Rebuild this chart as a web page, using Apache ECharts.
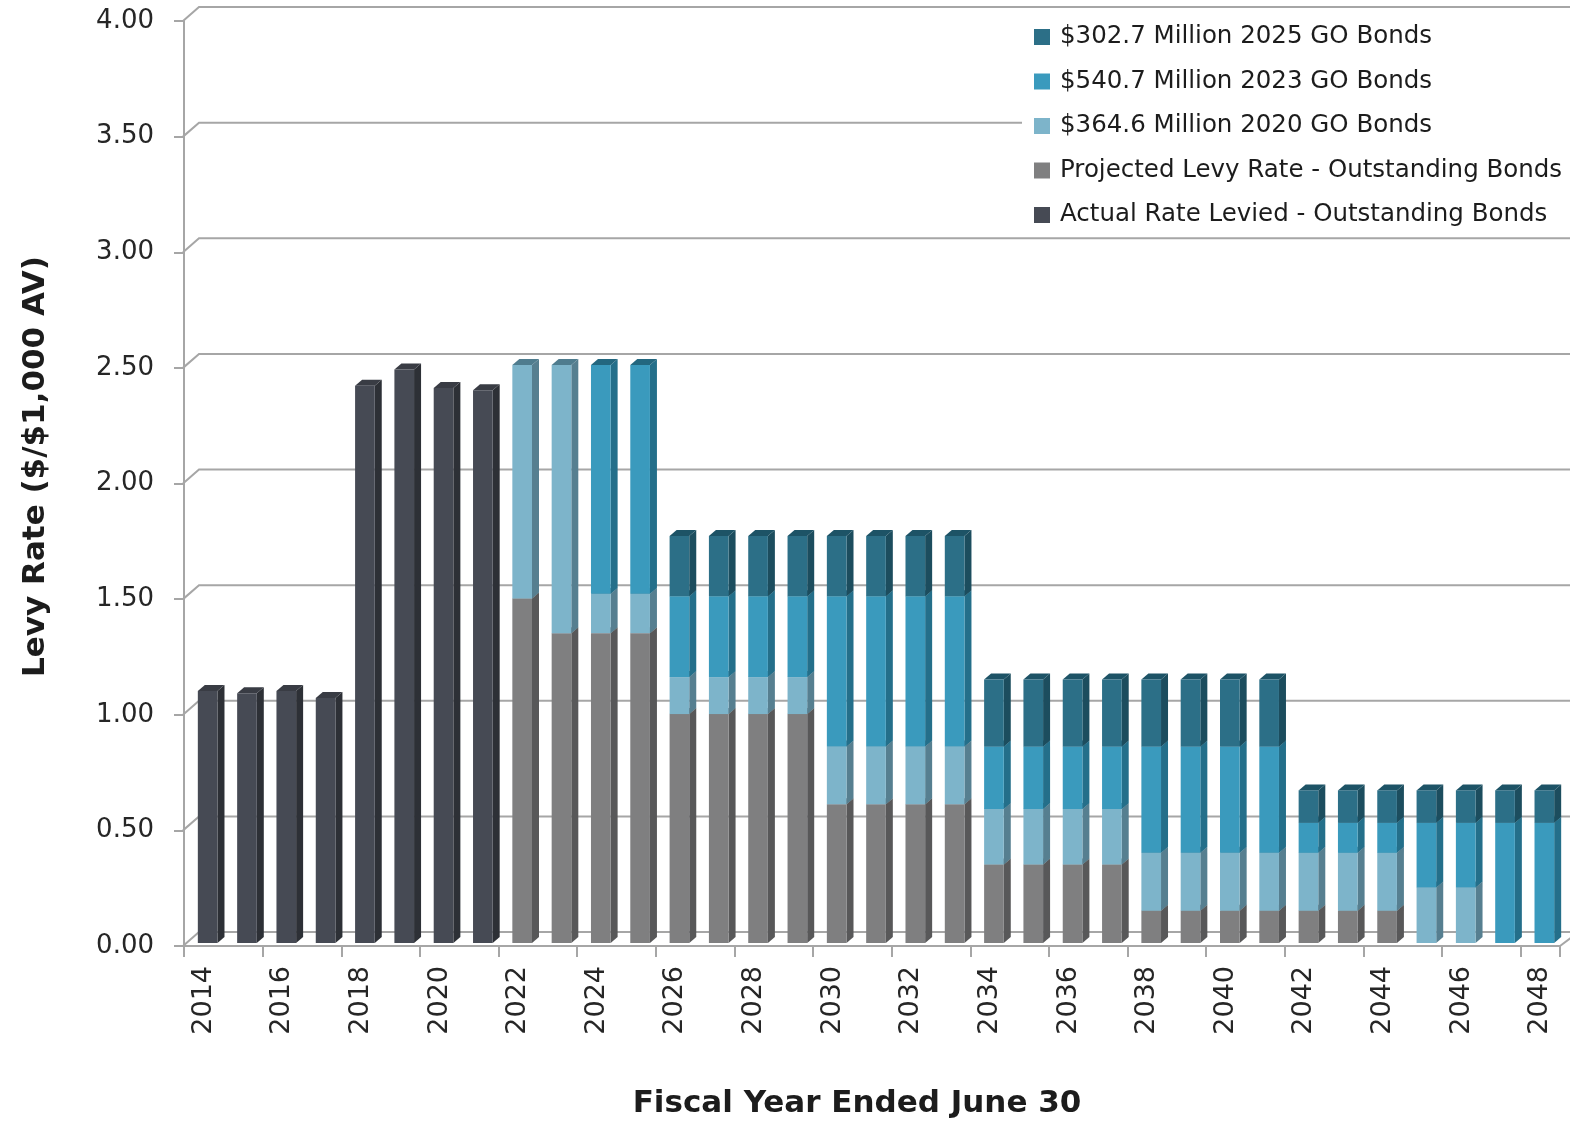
<!DOCTYPE html>
<html>
<head>
<meta charset="utf-8">
<script src="https://cdn.jsdelivr.net/npm/echarts@6/dist/echarts.min.js"></script>
<style>
  html, body { margin: 0; padding: 0; background: #fff; }
  #chart { width: 1570px; height: 1125px; }
</style>
</head>
<body>
<div id="chart"></div>
<script>
var years = ['2014', '2015', '2016', '2017', '2018', '2019', '2020', '2021', '2022', '2023',
  '2024', '2025', '2026', '2027', '2028', '2029', '2030', '2031', '2032', '2033',
  '2034', '2035', '2036', '2037', '2038', '2039', '2040', '2041', '2042', '2043',
  '2044', '2045', '2046', '2047', '2048'];

var yTicks = [0, 0.5, 1, 1.5, 2, 2.5, 3, 3.5, 4];

// segment heights, bottom to top of each stack
var actual = [1.09, 1.08, 1.09, 1.06, 2.41, 2.48, 2.40, 2.39, null, null,
  null, null, null, null, null, null, null, null, null, null,
  null, null, null, null, null, null, null, null, null, null,
  null, null, null, null, null];
var projected = [null, null, null, null, null, null, null, null, 1.49, 1.34,
  1.34, 1.34, 0.99, 0.99, 0.99, 0.99, 0.60, 0.60, 0.60, 0.60,
  0.34, 0.34, 0.34, 0.34, 0.14, 0.14, 0.14, 0.14, 0.14, 0.14,
  0.14, null, null, null, null];
var bonds2020 = [null, null, null, null, null, null, null, null, 1.01, 1.16,
  0.17, 0.17, 0.16, 0.16, 0.16, 0.16, 0.25, 0.25, 0.25, 0.25,
  0.24, 0.24, 0.24, 0.24, 0.25, 0.25, 0.25, 0.25, 0.25, 0.25,
  0.25, 0.24, 0.24, null, null];
var bonds2023 = [null, null, null, null, null, null, null, null, null, null,
  0.99, 0.99, 0.35, 0.35, 0.35, 0.35, 0.65, 0.65, 0.65, 0.65,
  0.27, 0.27, 0.27, 0.27, 0.46, 0.46, 0.46, 0.46, 0.13, 0.13,
  0.13, 0.28, 0.28, 0.52, 0.52];
var bonds2025 = [null, null, null, null, null, null, null, null, null, null,
  null, null, 0.26, 0.26, 0.26, 0.26, 0.26, 0.26, 0.26, 0.26,
  0.29, 0.29, 0.29, 0.29, 0.29, 0.29, 0.29, 0.29, 0.14, 0.14,
  0.14, 0.14, 0.14, 0.14, 0.14];

var seriesDefs = [
  { name: 'Actual Rate Levied - Outstanding Bonds', values: actual, front: '#464a54', side: '#2d3036', top: '#393c44' },
  { name: 'Projected Levy Rate - Outstanding Bonds', values: projected, front: '#7f7f80', side: '#585859', top: '#666667' },
  { name: '$364.6 Million 2020 GO Bonds', values: bonds2020, front: '#7db4ca', side: '#567f90', top: '#4f7c8e' },
  { name: '$540.7 Million 2023 GO Bonds', values: bonds2023, front: '#3a9abd', side: '#246f8a', top: '#23677f' },
  { name: '$302.7 Million 2025 GO Bonds', values: bonds2025, front: '#2c6f87', side: '#1c4d5e', top: '#1d5366' }
];

var FONT = 'DejaVu Sans';

function barRenderer(def) {
  return function (params, api) {
    var i = api.value(0);
    var lo = api.value(1);
    var hi = api.value(2);
    if (!(hi > lo)) {
      return;
    }
    var pLo = api.coord([i, lo]);
    var pHi = api.coord([i, hi]);
    var cw = api.size([1, 0])[0];
    var w = cw * 0.5;
    var dx = 7, dy = 6;
    var x0 = pLo[0] - w / 2 + 4;
    var x1 = x0 + w;
    var yb = pLo[1] - 3;
    var yt = pHi[1] - 3;
    return {
      type: 'group',
      children: [
        {
          type: 'polygon',
          shape: { points: [[x1, yb], [x1 + dx, yb - dy], [x1 + dx, yt - dy], [x1, yt]] },
          style: { fill: def.side }
        },
        {
          type: 'polygon',
          shape: { points: [[x0, yt], [x0 + dx, yt - dy], [x1 + dx, yt - dy], [x1, yt]] },
          style: { fill: def.top }
        },
        {
          type: 'rect',
          shape: { x: x0, y: yt, width: w, height: yb - yt },
          style: { fill: def.front }
        }
      ]
    };
  };
}

// running totals so each segment sits on the one below
var totals = years.map(function () { return 0; });
var barSeries = seriesDefs.map(function (def) {
  var data = def.values.map(function (v, i) {
    var lo = totals[i];
    var hi = lo + (v || 0);
    totals[i] = hi;
    return [i, lo, hi];
  });
  return {
    name: def.name,
    type: 'custom',
    renderItem: barRenderer(def),
    itemStyle: { color: def.front },
    encode: { x: 0, y: [1, 2] },
    clip: false,
    z: 3,
    data: data
  };
});

// back wall gridlines and the little diagonals joining them to the front axis
var wallSeries = {
  type: 'custom',
  name: 'walls',
  silent: true,
  clip: false,
  z: 1,
  encode: { x: 0, y: 1 },
  data: yTicks.map(function (v) { return [0, v]; }),
  renderItem: function (params, api) {
    var cs = params.coordSys;
    var y = api.coord([0, api.value(1)])[1];
    var x0 = cs.x - 1;
    var pts = [[x0, y], [x0 + 16, y - 14], [cs.x + cs.width + 30, y - 14]];
    var children = [{
      type: 'polyline',
      shape: { points: pts },
      style: { stroke: '#a6a6a6', lineWidth: 2, fill: null }
    }];
    if (api.value(1) === 0) {
      children.push({
        type: 'line',
        shape: { x1: cs.x + cs.width, y1: y, x2: cs.x + cs.width + 12, y2: y - 9 },
        style: { stroke: '#a6a6a6', lineWidth: 2 }
      });
    }
    return { type: 'group', children: children };
  }
};

var chart = echarts.init(document.getElementById('chart'), null, { renderer: 'canvas' });

var option = {
  animation: false,
  backgroundColor: '#ffffff',
  textStyle: { fontFamily: FONT },
  grid: { left: 184, right: 10, top: 21, bottom: 179, containLabel: false, outerBoundsMode: 'none' },
  legend: {
    orient: 'vertical',
    left: 1022,
    top: 14,
    padding: [9, 40, 4, 12],
    backgroundColor: '#ffffff',
    itemWidth: 16,
    itemHeight: 16,
    itemGap: 16.5,
    icon: 'rect',
    selectedMode: false,
    textStyle: { fontFamily: FONT, fontSize: 24.5, color: '#1c1c1c', lineHeight: 28, padding: [0, 0, 0, 5] },
    data: [
      '$302.7 Million 2025 GO Bonds',
      '$540.7 Million 2023 GO Bonds',
      '$364.6 Million 2020 GO Bonds',
      'Projected Levy Rate - Outstanding Bonds',
      'Actual Rate Levied - Outstanding Bonds'
    ]
  },
  xAxis: {
    type: 'category',
    data: years,
    boundaryGap: true,
    name: 'Fiscal Year Ended June 30',
    nameLocation: 'middle',
    nameGap: 142,
    nameTextStyle: { fontFamily: FONT, fontSize: 31, fontWeight: 'bold', color: '#1c1c1c', padding: [0, 30, 0, 0] },
    axisLine: { show: true, lineStyle: { color: '#a6a6a6', width: 2 } },
    axisTick: { show: true, interval: 1, length: 11, lineStyle: { color: '#a6a6a6', width: 2 } },
    axisLabel: { interval: 1, rotate: 90, margin: 20, fontFamily: FONT, fontSize: 27, color: '#262626' },
    splitLine: { show: false }
  },
  yAxis: {
    type: 'value',
    min: 0,
    max: 4,
    interval: 0.5,
    name: 'Levy Rate ($/$1,000 AV)',
    nameLocation: 'middle',
    nameRotate: 90,
    nameGap: 133,
    nameTextStyle: { fontFamily: FONT, fontSize: 31, fontWeight: 'bold', color: '#1c1c1c', padding: [0, 0, 0, 34] },
    axisLine: { show: true, lineStyle: { color: '#a6a6a6', width: 2 } },
    axisTick: { show: true, length: 10, lineStyle: { color: '#a6a6a6', width: 2 } },
    axisLabel: {
      margin: 30,
      fontFamily: FONT,
      fontSize: 26,
      color: '#262626',
      formatter: function (v) { return v.toFixed(2); }
    },
    splitLine: { show: false }
  },
  series: [wallSeries].concat(barSeries)
};

chart.setOption(option);
</script>
</body>
</html>
